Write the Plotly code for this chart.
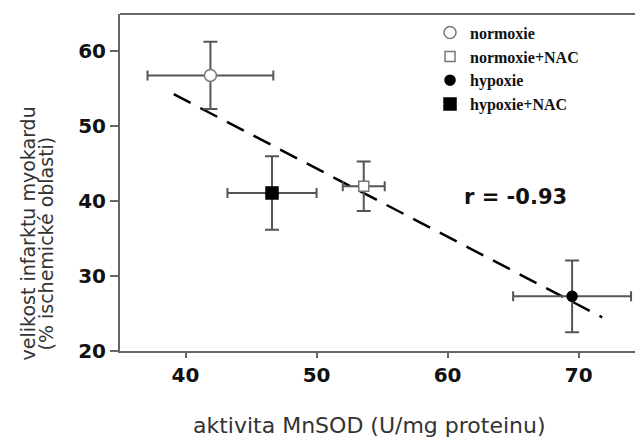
import plotly.graph_objects as go

# Data
groups = ["normoxie", "normoxie+NAC", "hypoxie", "hypoxie+NAC"]
mnsod = [41.9, 53.6, 69.5, 46.6]          # x: aktivita MnSOD
mnsod_err = [4.8, 1.6, 4.5, 3.4]
infarct = [56.8, 42.0, 27.3, 41.1]        # y: velikost infarktu
infarct_err = [4.5, 3.3, 4.8, 4.9]
symbols = ["circle", "square", "circle", "square"]
fills = ["white", "white", "black", "black"]
lines_c = ["#777777", "#777777", "black", "black"]
sizes = [12, 10, 10, 12]

trend_x = [39.1, 71.8]
trend_y = [54.3, 24.5]
r_text = "r = -0.93"

x_title = "aktivita MnSOD (U/mg proteinu)"
y_title_lines = ["velikost infarktu myokardu", "(% ischemické oblasti)"]

x_ticks = [40, 50, 60, 70]
y_ticks = [20, 30, 40, 50, 60]

fig = go.Figure()

fig.add_trace(go.Scatter(
    x=trend_x, y=trend_y, mode="lines",
    line=dict(color="black", width=2.5, dash="19px,11px"),
    showlegend=False, hoverinfo="skip"))

for i, g in enumerate(groups):
    fig.add_trace(go.Scatter(
        x=[mnsod[i]], y=[infarct[i]], mode="markers", name=g,
        marker=dict(symbol=symbols[i], size=sizes[i], color=fills[i],
                    line=dict(color=lines_c[i], width=1.5)),
        error_x=dict(type="data", array=[mnsod_err[i]], color="#555555",
                     thickness=2, width=5),
        error_y=dict(type="data", array=[infarct_err[i]], color="#555555",
                     thickness=2, width=7),
    ))

fig.add_annotation(x=65.2, y=40.6, xref="x", yref="y", text=r_text,
                   showarrow=False,
                   font=dict(family="DejaVu Sans", size=21, color="#111111",
                             weight="bold"))

# two-line y title (tighter line spacing than plotly's default)
ytitle_font = dict(family="DejaVu Sans", size=19, color="#333333")
fig.add_annotation(x=-0.178, y=0.35, xref="paper", yref="paper",
                   text=y_title_lines[0], textangle=-90, showarrow=False,
                   xanchor="center", yanchor="middle", font=ytitle_font)
fig.add_annotation(x=-0.143, y=0.32, xref="paper", yref="paper",
                   text=y_title_lines[1], textangle=-90, showarrow=False,
                   xanchor="center", yanchor="middle", font=ytitle_font)

# x title
fig.add_annotation(x=0.485, y=-0.222, xref="paper", yref="paper",
                   text=x_title, showarrow=False,
                   xanchor="center", yanchor="middle",
                   font=dict(family="DejaVu Sans", size=22, color="#333333"))

# top frame line
fig.add_shape(type="line", xref="paper", yref="paper", x0=0, x1=1, y0=1, y1=1,
              line=dict(color="#666666", width=2))

tick_font = dict(family="DejaVu Sans", size=20, color="#111111", weight="bold")

fig.update_layout(
    width=635, height=441,
    margin=dict(l=120, r=0, t=14, b=90),
    plot_bgcolor="white", paper_bgcolor="white",
    legend=dict(x=0.602, y=0.995, xanchor="left", yanchor="top",
                bgcolor="rgba(0,0,0,0)", itemwidth=30, tracegroupgap=0,
                font=dict(family="Liberation Serif", size=16, color="#111111",
                          weight="bold")),
    xaxis=dict(range=[35, 74.3], tickvals=x_ticks, ticks="outside",
               ticklen=5, tickwidth=2, tickcolor="#666666",
               showline=True, linecolor="#666666", linewidth=2,
               showgrid=False, zeroline=False, tickfont=tick_font,
               automargin=False),
    yaxis=dict(range=[20, 65], tickvals=y_ticks, ticks="outside",
               ticklen=8, tickwidth=2, tickcolor="#666666",
               showline=True, linecolor="#666666", linewidth=2,
               showgrid=False, zeroline=False, tickfont=tick_font,
               automargin=False),
)

fig.write_html("out.html", config={"displayModeBar": False},
               post_script="document.body.style.margin='0';")
